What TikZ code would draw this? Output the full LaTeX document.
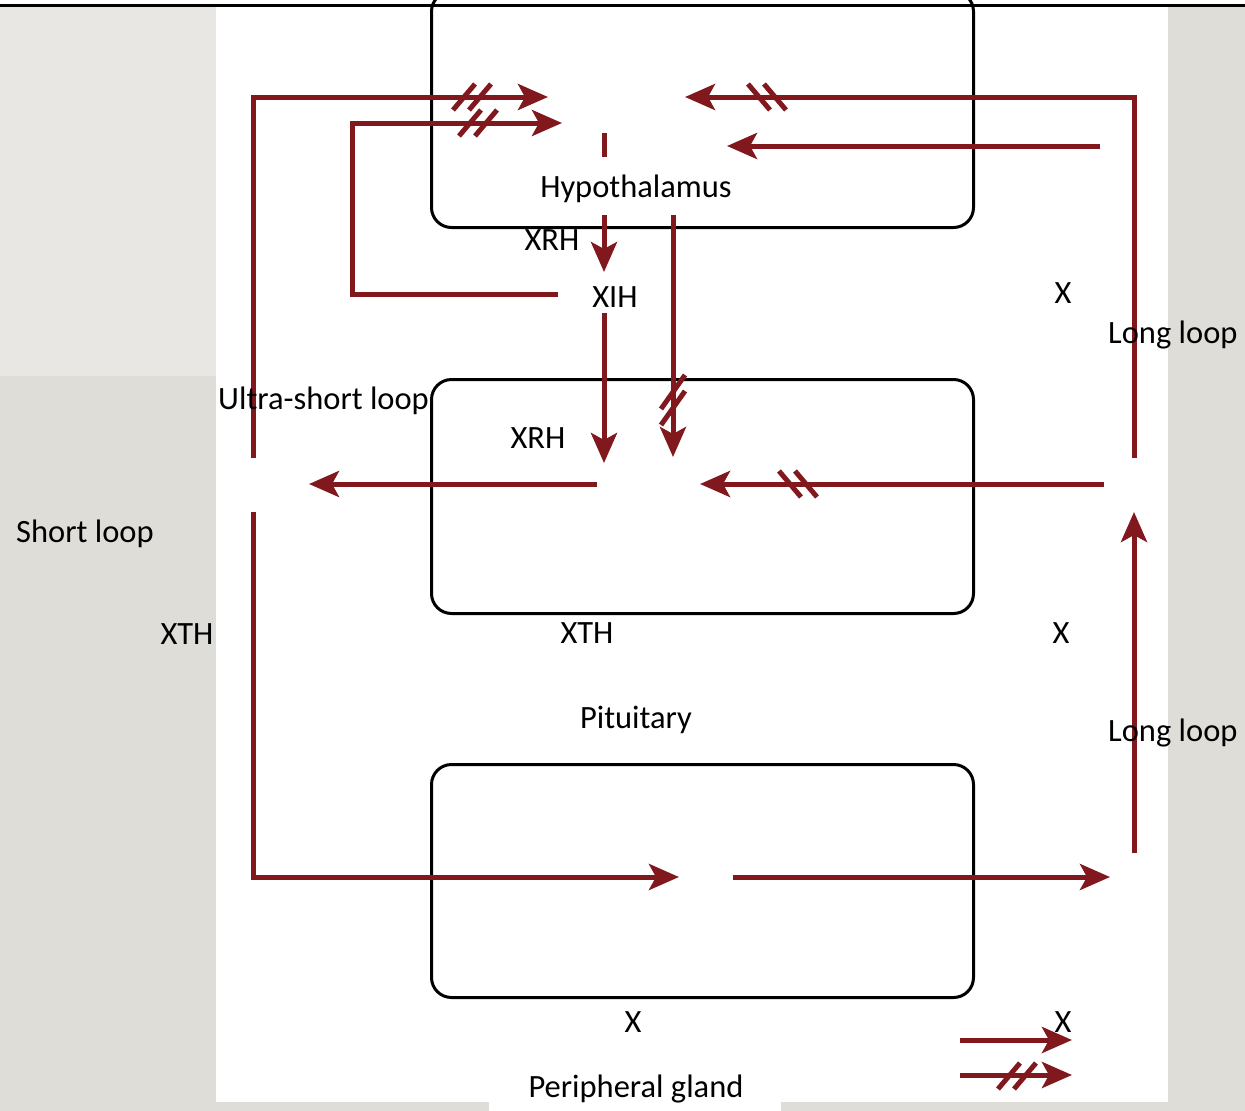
\documentclass[tikz,border=0pt]{standalone}
\usepackage{fontspec}
\setmainfont{Carlito}
\usetikzlibrary{arrows.meta}
\definecolor{loopred}{RGB}{128,24,30}
\definecolor{bgA}{RGB}{233,231,227}
\definecolor{bgB}{RGB}{223,221,215}
\begin{document}
\begin{tikzpicture}[x=1pt,y=-1pt,
  lbl/.style={font=\fontsize{32.5}{39}\selectfont, inner sep=0pt, anchor=base},
  organ/.style={draw=black, line width=3pt, rounded corners=20pt, anchor=north west,
                minimum width=542pt, inner sep=0pt},
  conn/.style={draw=loopred, line width=5pt},
  arr/.style={conn, -{Stealth[length=30pt,width=26pt,inset=7pt]}},
  dsl/.pic={\draw[loopred,line width=5pt] (-19,13)--(3,-13) (-3,13)--(19,-13);},
  vdsl/.pic={\draw[loopred,line width=5pt] (-12,9)--(12,-25) (-12,25)--(12,-9);}
]
\useasboundingbox (0,0) rectangle (1245,1111);
% background
\fill[bgB] (0,0) rectangle (1245,1111);
\fill[bgA] (0,0) rectangle (216,376);
\fill[white] (216,0) rectangle (1168,1102);
\fill[white] (489,1100) rectangle (781,1111);
\fill[white] (0,0) rectangle (1245,4);

% organ boxes
\node[organ, minimum height=236pt] (hypbox) at (430,-10) {};
\node[organ, minimum height=234pt] (pitbox) at (430,378) {};
\node[organ, minimum height=233pt] (glbox) at (430,763) {};

% top rule
\draw[line width=2.7pt] (0,5.3) -- (1245,5.3);

% coordinates
\coordinate (slTop) at (253,458);
\coordinate (slTip) at (548,97);
\coordinate (slBot) at (253,512);
\coordinate (glIn) at (679,877);
\coordinate (usStart) at (558,294);
\coordinate (usCorner) at (352,294);
\coordinate (usTip) at (562,123);
\coordinate (llTop) at (1134,458);
\coordinate (llTip) at (685,97);
\coordinate (lsStart) at (1100,146);
\coordinate (lsTip) at (727,146);
\coordinate (mrStart) at (1104,484);
\coordinate (mrTip) at (700,484);
\coordinate (upStart) at (1134,853);
\coordinate (upTip) at (1134,512);
\coordinate (glOut) at (733,877);
\coordinate (glTip) at (1110,877);
\coordinate (stubA) at (604,133);
\coordinate (stubB) at (604,157);
\coordinate (rhStart) at (604,215);
\coordinate (rhTip) at (604,272);
\coordinate (ihStart) at (673,215);
\coordinate (ihTip) at (673,457);
\coordinate (xihStart) at (604,313);
\coordinate (xihTip) at (604,463);
\coordinate (thStart) at (597,484);
\coordinate (thTip) at (309,484);
\coordinate (lgA) at (960,1040);
\coordinate (lgATip) at (1072,1040);
\coordinate (lgB) at (960,1075);
\coordinate (lgBTip) at (1072,1075);

% connectors
\draw[arr] (slTop) |- (slTip);
\draw[arr] (slBot) |- (glIn);
\draw[arr] (usStart) -- (usCorner) |- (usTip);
\draw[arr] (llTop) |- (llTip);
\draw[arr] (lsStart) -- (lsTip);
\draw[arr] (mrStart) -- (mrTip);
\draw[arr] (upStart) -- (upTip);
\draw[arr] (glOut) -- (glTip);
\draw[conn] (stubA) -- (stubB);
\draw[arr] (rhStart) -- (rhTip);
\draw[arr] (ihStart) -- (ihTip);
\draw[arr] (xihStart) -- (xihTip);
\draw[arr] (thStart) -- (thTip);
\draw[arr] (lgA) -- (lgATip);
\draw[arr] (lgB) -- (lgBTip);

% inhibition marks
\pic at (472,97) {dsl};
\pic at (478,123) {dsl};
\pic[xscale=-1] at (767,97) {dsl};
\pic[xscale=-1] at (798,484) {dsl};
\pic at (673,400) {vdsl};
\pic at (1017,1076) {dsl};

% labels
\node[lbl] (hyp) at (636,197) {Hypothalamus};
\node[lbl] (xrh1) at (552,250) {XRH};
\node[lbl] (xih) at (615,307) {XIH};
\node[lbl] (x1) at (1063,303) {X};
\node[lbl, anchor=base west] (ll1) at (1108,343) {Long loop};
\node[lbl, anchor=base west] (usl) at (218,409) {Ultra-short loop};
\node[lbl] (xrh2) at (538,448) {XRH};
\node[lbl, anchor=base west] (sl) at (16,542) {Short loop};
\node[lbl] (xth1) at (187,644) {XTH};
\node[lbl] (xth2) at (587,643) {XTH};
\node[lbl] (x2) at (1061,643) {X};
\node[lbl] (pit) at (636,728) {Pituitary};
\node[lbl, anchor=base west] (ll2) at (1108,741) {Long loop};
\node[lbl] (x3) at (633,1032) {X};
\node[lbl] (x4) at (1063,1032) {X};
\node[lbl] (pg) at (636,1097) {Peripheral gland};
\end{tikzpicture}
\end{document}
